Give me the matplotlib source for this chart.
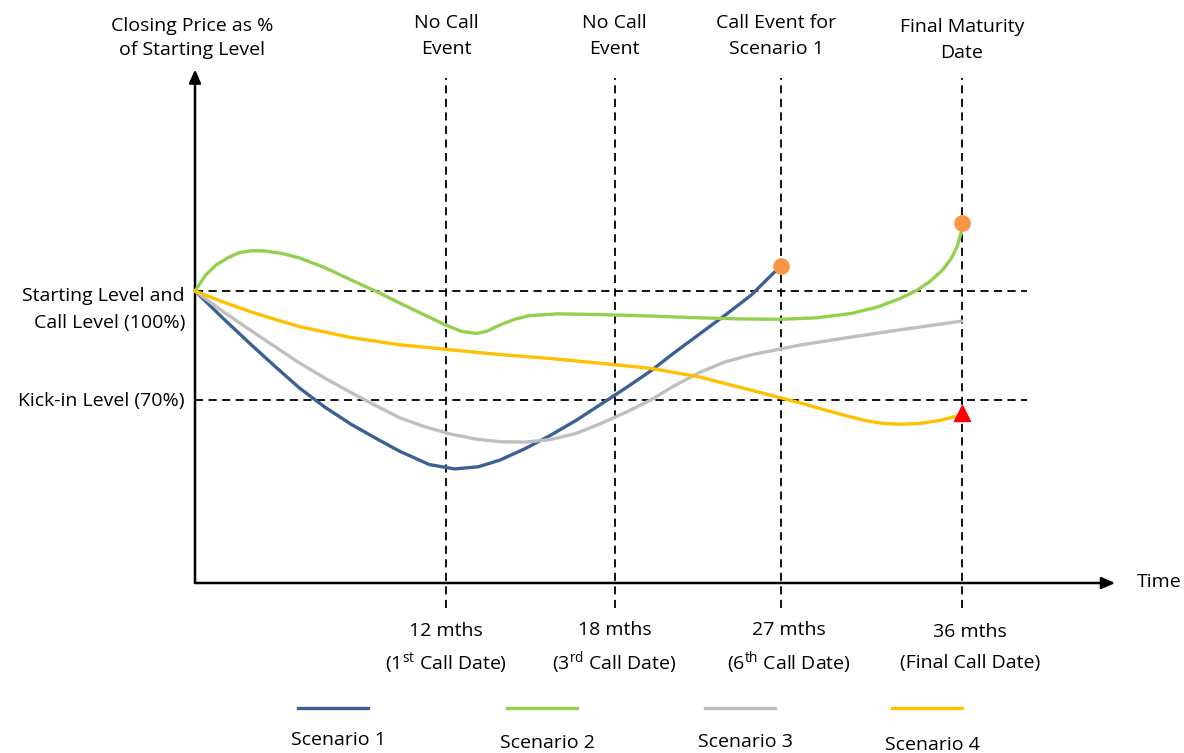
import numpy as np
import matplotlib
matplotlib.use('Agg')
import matplotlib.pyplot as plt

plt.rcParams['font.family'] = ['Open Sans', 'DejaVu Sans']
plt.rcParams['mathtext.fontset'] = 'custom'
plt.rcParams['mathtext.rm'] = 'Open Sans'

# x = schematic time position, y = closing price as % of starting level
call_pos = [11.8, 19.7, 27.5, 36.0]
call_mths = ['12 mths', '18 mths', '27 mths', '36 mths']
call_names = ['(1$^{\\mathrm{st}}$ Call Date)', '(3$^{\\mathrm{rd}}$ Call Date)',
              '(6$^{\\mathrm{th}}$ Call Date)', '(Final Call Date)']
event_names = ['No Call\nEvent', 'No Call\nEvent', 'Call Event for\nScenario 1',
               'Final Maturity\nDate']

start_level = 100
kick_in = 70

s1_x = [0, 1.4, 2.6, 3.8, 4.9, 6.1, 7.3, 8.5, 9.6, 11.0, 12.2, 13.3, 14.3, 15.5, 16.7,
        17.9, 19.0, 20.2, 21.4, 22.5, 23.7, 24.9, 26.1, 27.5]
s1_y = [100, 92.0, 85.4, 79.0, 73.3, 68.0, 63.4, 59.4, 55.9, 52.2, 51.0, 51.6, 53.4,
        56.6, 60.3, 64.4, 68.6, 73.2, 78.0, 83.0, 88.2, 93.4, 98.8, 106.9]

s2_x = [0, 0.5, 1.0, 1.6, 2.1, 2.7, 3.3, 4.1, 4.9, 6.1, 7.3, 8.5, 9.6, 10.7, 11.7,
        12.5, 13.2, 13.7, 14.3, 15.0, 15.7, 17.0, 19.0, 21.4, 23.7, 25.6, 27.5, 29.2,
        30.8, 32.0, 33.1, 33.9, 34.5, 35.1, 35.5, 35.8, 36.0]
s2_y = [100, 104.4, 107.2, 109.3, 110.6, 111.1, 111.0, 110.3, 109.1, 106.4, 103.1,
        99.9, 96.7, 93.6, 90.8, 88.9, 88.3, 88.9, 90.6, 92.2, 93.2, 93.7, 93.5, 93.1,
        92.6, 92.3, 92.2, 92.6, 93.8, 95.5, 97.9, 100.2, 102.6, 105.8, 108.9, 112.5,
        116.8]

s3_x = [0, 1.3, 2.6, 3.8, 4.9, 6.1, 7.3, 8.5, 9.6, 10.8, 12.0, 13.2, 14.3, 15.5, 16.7,
        17.9, 19.0, 20.2, 21.4, 22.5, 23.7, 24.9, 26.1, 28.4, 30.8, 33.1, 36.0]
s3_y = [100, 94.4, 89.2, 84.5, 80.2, 76.0, 72.1, 68.4, 65.1, 62.6, 60.6, 59.2, 58.5,
        58.4, 59.1, 60.8, 63.4, 66.5, 70.0, 73.9, 77.6, 80.5, 82.4, 85.1, 87.3, 89.3,
        91.7]

s4_x = [0, 1.3, 2.6, 3.8, 4.9, 7.3, 9.6, 12.0, 14.3, 16.7, 19.0, 21.4, 23.7, 26.1,
        28.4, 29.6, 30.8, 31.5, 32.2, 33.1, 34.0, 35.0, 36.0]
s4_y = [100, 97.0, 94.3, 92.1, 90.2, 87.2, 85.2, 83.8, 82.5, 81.4, 80.1, 78.7, 76.3,
        72.7, 69.2, 67.2, 65.3, 64.3, 63.6, 63.3, 63.5, 64.4, 65.9]

call_dots_x = [27.5, 36.0]
call_dots_y = [106.9, 118.7]
kick_x = [36.0]
kick_y = [66.4]

colors = ['#3B6194', '#92D050', '#BFBFBF', '#FFC000']
labels = ['Scenario 1', 'Scenario 2', 'Scenario 3', 'Scenario 4']

fig = plt.figure(figsize=(11.84, 7.53), dpi=100)
ax = fig.add_axes([0, 0, 1, 1])
ax.set_xlim(-9.155, 46.43)
ax.set_ylim(-27.2, 180.1)
ax.axis('off')

fs = 14
dash = (0, (4.5, 3))

# reference lines
for lvl in [start_level, kick_in]:
    ax.plot([0, 39.06], [lvl, lvl], color='black', lw=1.3, ls=dash, zorder=1)
for p in call_pos:
    ax.plot([p, p], [12.7, 158.6], color='black', lw=1.3, ls=dash, zorder=1)

# axes arrows
ax.annotate('', xy=(0, 161), xytext=(0, 19.6),
            arrowprops=dict(arrowstyle='-|>,head_length=0.8,head_width=0.35',
                            color='black', lw=1.8, shrinkA=0, shrinkB=0))
ax.annotate('', xy=(43.2, 19.6), xytext=(0, 19.6),
            arrowprops=dict(arrowstyle='-|>,head_length=0.8,head_width=0.35',
                            color='black', lw=1.8, shrinkA=0, shrinkB=0))

# scenarios
for xs, ys, c in zip([s1_x, s2_x, s3_x, s4_x], [s1_y, s2_y, s3_y, s4_y], colors):
    ax.plot(xs, ys, color=c, lw=2.4, solid_capstyle='round', solid_joinstyle='round',
            zorder=3)
ax.plot(call_dots_x, call_dots_y, 'o', color='#F79646', ms=11, zorder=4)
ax.plot(kick_x, kick_y, '^', color='#FF0000', ms=11, zorder=4)

# texts
ax.text(-0.14, 169.6, 'Closing Price as %\nof Starting Level', ha='center', va='center',
        fontsize=fs, linespacing=1.45)
ax.text(-0.47, 94.8, 'Starting Level and\nCall Level (100%)', ha='right', va='center',
        fontsize=fs, linespacing=1.65)
ax.text(-0.47, 69.7, 'Kick-in Level (70%)', ha='right', va='center', fontsize=fs)
ax.text(44.2, 19.9, 'Time', ha='left', va='center', fontsize=fs)

top_dx = [0.0, 0.0, -0.2, 0.0]
top_y = [170.1, 170.1, 170.1, 169.0]
for p, name, dx, ty in zip(call_pos, event_names, top_dx, top_y):
    ax.text(p + dx, ty, name, ha='center', va='center', fontsize=fs, linespacing=1.55)

bot_dx = [0.0, 0.0, 0.4, 0.4]
bot_y1 = [6.4, 6.7, 6.7, 6.1]
bot_y2 = -2.4
for p, m, n, dx, y1 in zip(call_pos, call_mths, call_names, bot_dx, bot_y1):
    ax.text(p + dx, y1, m, ha='center', va='center', fontsize=fs)
    ax.text(p + dx, bot_y2, n, ha='center', va='center', fontsize=fs)

# legend
leg_x0 = [4.84, 14.65, 23.94, 32.72]
leg_ty = [-23.6, -24.4, -24.1, -25.0]
leg_ly = -14.8
for x0, c, lab, ty in zip(leg_x0, colors, labels, leg_ty):
    ax.plot([x0, x0 + 3.3], [leg_ly, leg_ly], color=c, lw=2.4)
    ax.text(x0 + 1.9, ty, lab, ha='center', va='center', fontsize=fs)

fig.savefig('out.png', dpi=100)
